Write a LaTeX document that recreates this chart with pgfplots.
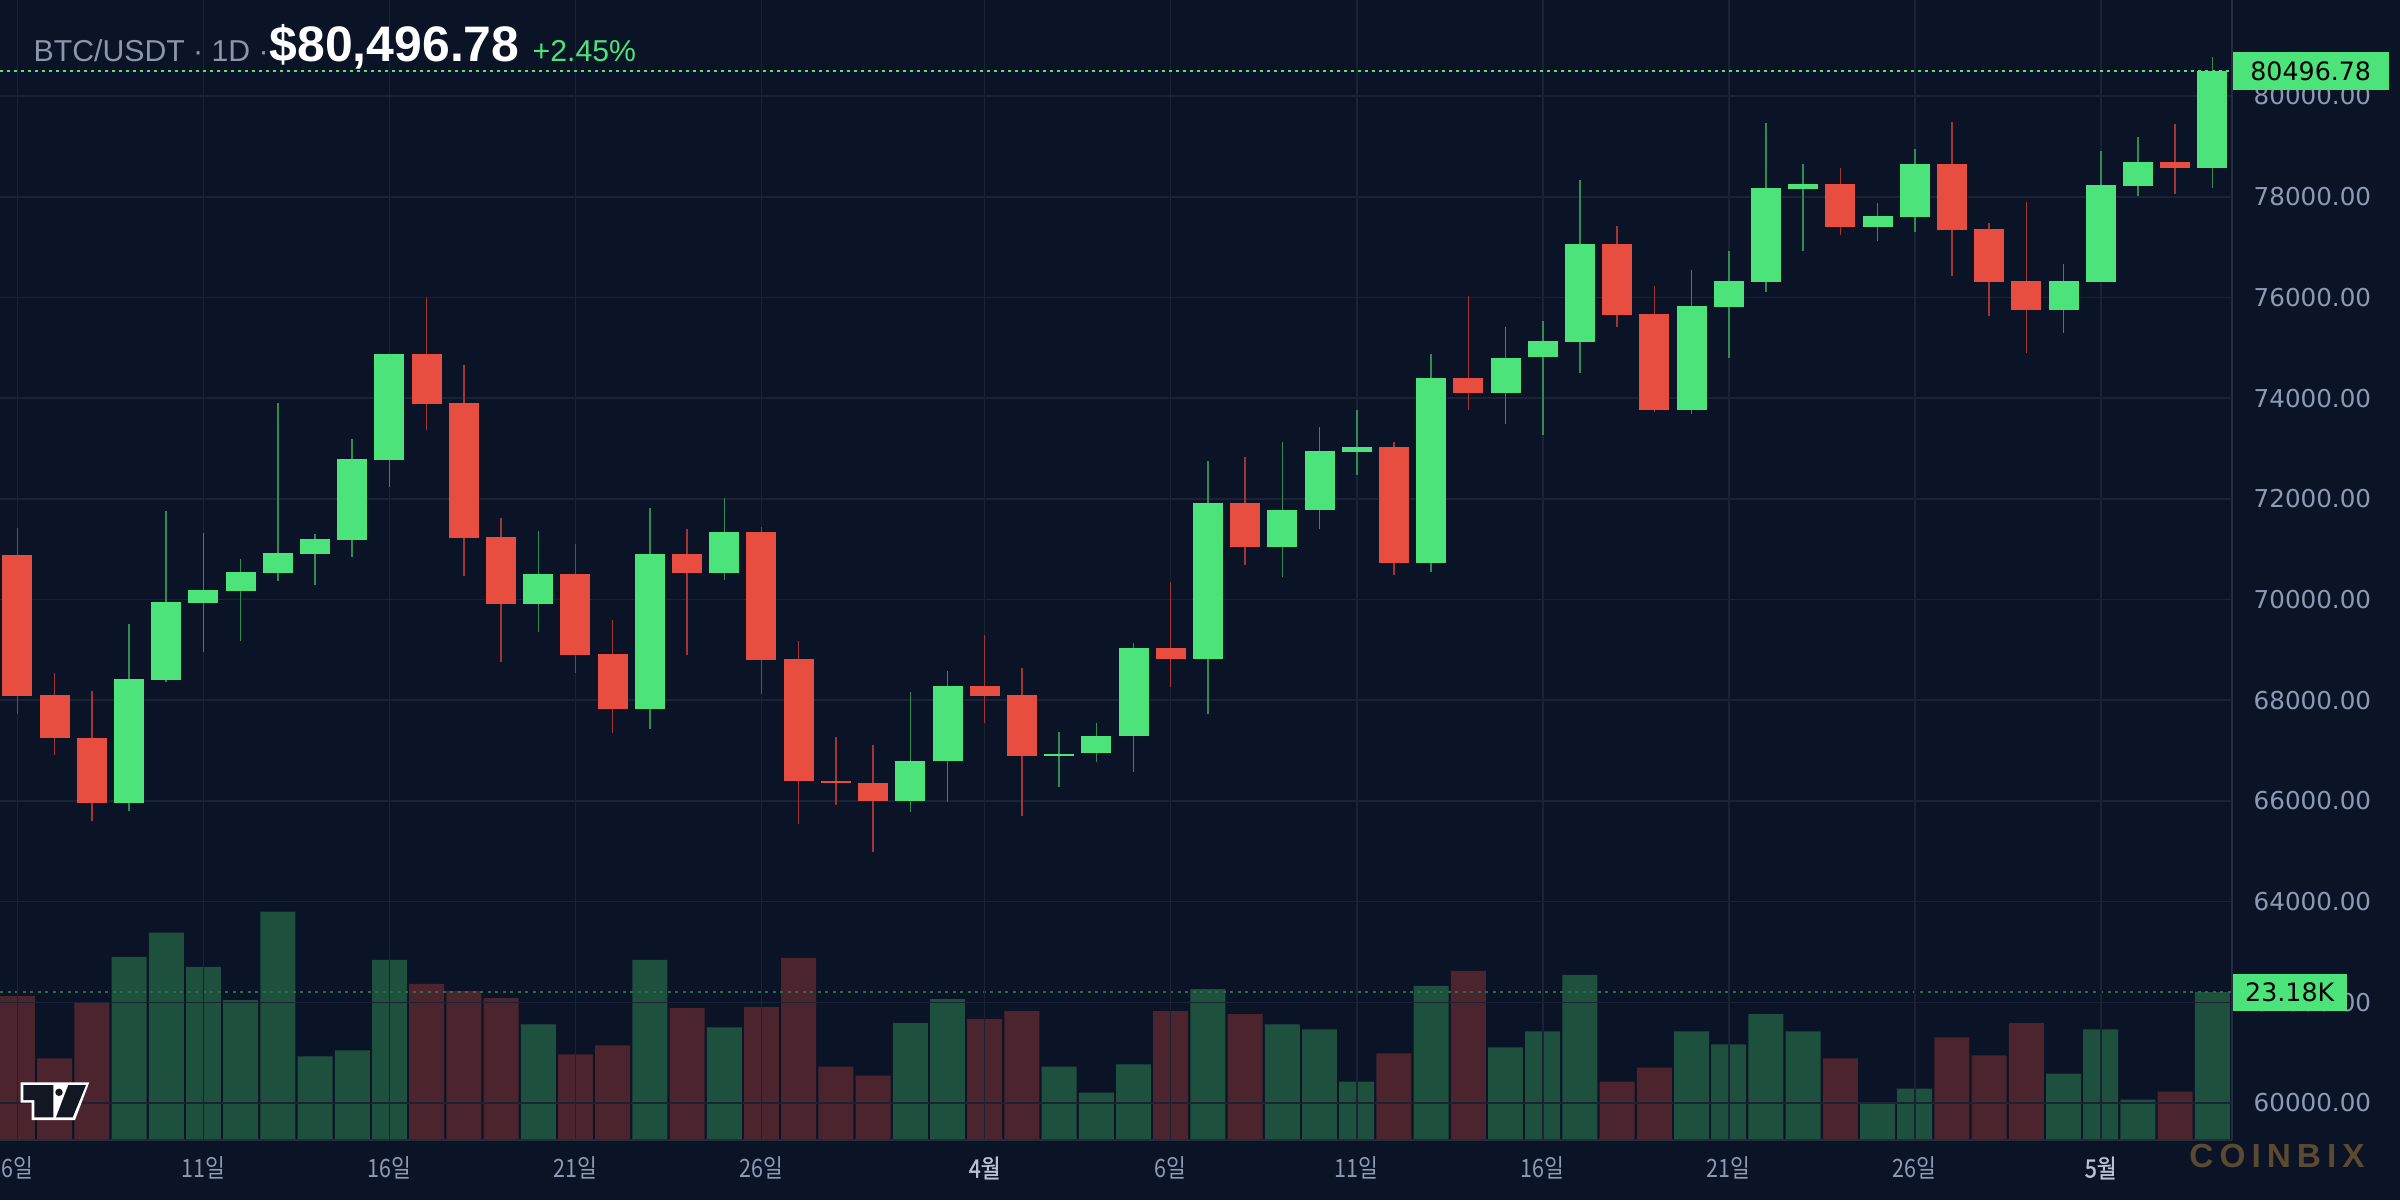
\documentclass[border=0pt]{standalone}
\usepackage{graphicx}
\usepackage{pgfplots}
\pgfplotsset{compat=1.18}
\usepackage{pgfplotstable}
\usepackage{fontspec}
\setmainfont{Liberation Sans}
\newfontfamily\dejavu{DejaVu Sans}
\newfontfamily\kr{Noto Sans CJK KR}
\newfontfamily\krb[FakeBold=1.2]{Noto Sans CJK KR}
\newfontfamily\wm[LetterSpace=18]{Liberation Sans}
\definecolor{bg}{HTML}{0B1326}
\definecolor{gridc}{HTML}{1A2233}
\definecolor{axisc}{HTML}{232C3D}
\definecolor{tickc}{HTML}{8C9AB3}
\definecolor{tickb}{HTML}{B8C2D4}
\definecolor{titlegray}{HTML}{8A96AD}
\definecolor{upc}{HTML}{4BE37A}
\definecolor{dnc}{HTML}{E84E40}
\definecolor{wup}{HTML}{2E8C55}
\definecolor{wdn}{HTML}{A33535}
\definecolor{vup}{HTML}{1E503E}
\definecolor{vdn}{HTML}{4C242E}
\definecolor{vline}{HTML}{2A6B4B}
\definecolor{wmc}{HTML}{5B4A2F}
\definecolor{logoin}{HTML}{131722}
\pgfplotstableread{
i o h l c v
0 70878 71413 67717 68093 22.55
1 68106 68542 66905 67241 12.77
2 67255 68185 65598 65954 21.60
3 65954 69512 65796 68423 28.70
4 68410 71769 68370 69947 32.48
5 69934 71314 68964 70185 27.12
6 70172 70799 69182 70541 21.92
7 70528 73901 70370 70918 35.79
8 70904 71294 70291 71195 13.09
9 71182 73186 70845 72790 14.03
10 72775 74887 72238 74874 28.23
11 74874 75993 73371 73887 24.44
12 73900 74656 70469 71215 23.34
13 71234 71611 68766 69914 22.23
14 69914 71353 69360 70502 18.13
15 70502 71096 68548 68905 13.40
16 68918 69591 67340 67835 14.82
17 67835 71809 67420 70898 28.23
18 70898 71393 68905 70528 20.66
19 70528 72007 70390 71333 17.66
20 71333 71432 68132 68806 20.81
21 68819 69175 65539 66390 28.54
22 66403 67274 65915 66350 11.51
23 66364 67116 64984 65994 10.09
24 65994 68165 65776 66799 18.29
25 66786 68581 65974 68284 22.08
26 68284 69294 67558 68093 18.92
27 68106 68641 65697 66885 20.18
28 66885 67373 66271 66934 11.51
29 66944 67552 66766 67294 7.41
30 67281 69136 66565 69037 11.83
31 69037 70343 68271 68825 20.18
32 68825 72759 67717 71908 23.65
33 71908 72838 70687 71043 19.71
34 71043 73126 70449 71769 18.13
35 71769 73424 71399 72950 17.34
36 72928 73762 72470 73027 9.15
37 73027 73126 70489 70726 13.56
38 70726 74874 70548 74397 24.13
39 74397 76026 73768 74106 26.49
40 74106 75411 73490 74795 14.51
41 74808 75530 73271 75132 17.03
42 75119 78331 74503 77060 25.86
43 77060 77417 75417 75656 9.15
44 75669 76225 73729 73768 11.35
45 73768 76543 73689 75828 17.03
46 75815 76920 74801 76325 14.98
47 76311 79464 76113 78172 19.71
48 78152 78649 76927 78252 17.03
49 78252 78570 77238 77397 12.77
50 77397 77874 77119 77616 5.83
51 77596 78947 77298 78649 8.04
52 78649 79483 76424 77338 16.08
53 77358 77477 75629 76305 13.25
54 76325 77894 74901 75748 18.29
55 75748 76662 75291 76325 10.41
56 76305 78907 76298 78232 17.34
57 78212 79185 78013 78689 6.31
58 78689 79444 78053 78571 7.57
59 78571 80775 78172 80496.78 23.18
}\ohlc
\pgfplotsset{candle/.style={draw=none, fill=none, mark=none, mark size=0pt,
  mark options={draw=none, fill=none}}}
\begin{document}
\begin{tikzpicture}
\useasboundingbox (0,0) rectangle (24cm,12cm);
\fill[bg] (0,0) rectangle (24cm,12cm);
\clip (0,0) rectangle (24cm,12cm);
% ---------- volume ----------
\begin{axis}[at={(0,0.6cm)}, anchor=south west, scale only axis,
  width=22.32cm, height=11.4cm,
  xmin=-0.47, xmax=59.53, ymin=0, ymax=178.55,
  axis lines=none, clip=false]
\addplot[ybar, bar width=0.94, bar shift=0pt, fill=vup, draw=none,
  restrict expr to domain={\thisrow{c}-\thisrow{o}}{0:100000}]
  table[x=i, y=v] {\ohlc};
\addplot[ybar, bar width=0.94, bar shift=0pt, fill=vdn, draw=none,
  restrict expr to domain={\thisrow{c}-\thisrow{o}}{-100000:0}]
  table[x=i, y=v] {\ohlc};
\addplot[vline, line width=0.5pt, dash pattern=on 0.3mm off 0.45mm]
  coordinates {(-0.47,23.18) (59.53,23.18)};
\coordinate (vlab) at (axis cs:59.53,23.18);
\end{axis}
% ---------- price ----------
\begin{axis}[at={(0,0.6cm)}, anchor=south west, scale only axis,
  width=22.32cm, height=11.4cm,
  xmin=-0.47, xmax=59.53, ymin=59265, ymax=81907,
  axis x line*=bottom, axis y line*=right,
  axis line style={draw=axisc, line width=0.6pt, -},
  major tick length=0pt,
  grid=major, major grid style={draw=gridc, line width=0.45pt},
  xtick={0,5,10,15,20,26,31,36,41,46,51,56},
  xticklabels={6일,11일,16일,21일,26일,{\color{tickb}\krb 4월},6일,11일,16일,21일,26일,{\color{tickb}\krb 5월}},
  xticklabel style={font=\kr\fontsize{7.2}{8}\selectfont, text=tickc, anchor=center, inner sep=0pt, yshift=-2.8mm, xscale=0.85},
  ytick={60000,62000,...,80000},
  scaled y ticks=false,
  yticklabel style={font=\dejavu\fontsize{7}{8}\selectfont, text=tickc, anchor=west, inner sep=0pt, xshift=2.1mm,
    /pgf/number format/fixed, /pgf/number format/fixed zerofill, /pgf/number format/precision=2,
    /pgf/number format/1000 sep={}, /pgf/number format/assume math mode=true},
  clip=false]
\addplot[upc, line width=0.5pt, dash pattern=on 0.3mm off 0.4mm]
  coordinates {(-0.47,80496.78) (59.53,80496.78)};
\coordinate (plab) at (axis cs:59.53,80496.78);
% wicks
\addplot[candle, restrict expr to domain={\thisrow{c}-\thisrow{o}}{0:100000},
  error bars/.cd, y dir=both, y explicit, error mark=none,
  error bar style={draw=wup, line width=0.45pt}]
  table[x=i, y expr={(\thisrow{h}+\thisrow{l})/2}, y error expr={(\thisrow{h}-\thisrow{l})/2}] {\ohlc};
\addplot[candle, restrict expr to domain={\thisrow{c}-\thisrow{o}}{-100000:0},
  error bars/.cd, y dir=both, y explicit, error mark=none,
  error bar style={draw=wdn, line width=0.45pt}]
  table[x=i, y expr={(\thisrow{h}+\thisrow{l})/2}, y error expr={(\thisrow{h}-\thisrow{l})/2}] {\ohlc};
% bodies
\addplot[candle, restrict expr to domain={\thisrow{c}-\thisrow{o}}{0:100000},
  error bars/.cd, y dir=both, y explicit, error mark=none,
  error bar style={draw=upc, line width=3mm}]
  table[x=i, y expr={(\thisrow{o}+\thisrow{c})/2}, y error expr={abs(\thisrow{c}-\thisrow{o})/2}] {\ohlc};
\addplot[candle, restrict expr to domain={\thisrow{c}-\thisrow{o}}{-100000:0},
  error bars/.cd, y dir=both, y explicit, error mark=none,
  error bar style={draw=dnc, line width=3mm}]
  table[x=i, y expr={(\thisrow{o}+\thisrow{c})/2}, y error expr={abs(\thisrow{c}-\thisrow{o})/2}] {\ohlc};
\end{axis}
% ---------- labels ----------
\node[fill=upc, text=black, anchor=west, minimum width=15.6mm, minimum height=3.8mm, inner sep=0pt,
  font=\dejavu\fontsize{7.2}{8}\selectfont] at (plab) {80496.78};
\node[fill=upc, text=black, anchor=west, minimum width=11.4mm, minimum height=3.7mm, inner sep=0pt,
  font=\dejavu\fontsize{7.2}{8}\selectfont] at (vlab) {23.18K};
\node[anchor=base west, inner sep=0pt, text=titlegray, font=\fontsize{8.6}{10}\selectfont] at (0.33cm,11.38cm) {BTC/USDT · 1D ·};
\node[anchor=base west, inner sep=0pt, text=white, font=\bfseries\fontsize{14.2}{16}\selectfont] at (2.69cm,11.38cm) {\$80,496.78};
\node[anchor=base west, inner sep=0pt, text=upc, font=\fontsize{8.6}{10}\selectfont] at (5.32cm,11.38cm) {+2.45\%};
\node[text=wmc, inner sep=0pt, font=\wm\bfseries\fontsize{9.5}{10}\selectfont] at (22.77cm,0.44cm) {COINBIX};
% logo
\fill[white] (0.207,1.177) -- (0.893,1.177) -- (0.75,0.80) -- (0.317,0.80) -- (0.317,0.973) -- (0.207,0.973) -- cycle;
\fill[logoin] (0.233,1.15) -- (0.533,1.15) -- (0.533,0.827) -- (0.343,0.827) -- (0.343,1.0) -- (0.233,1.0) -- cycle;
\fill[logoin] (0.59,1.077) circle (0.037);
\fill[logoin] (0.683,1.15) -- (0.86,1.15) -- (0.727,0.827) -- (0.56,0.827) -- cycle;
\end{tikzpicture}
\end{document}
